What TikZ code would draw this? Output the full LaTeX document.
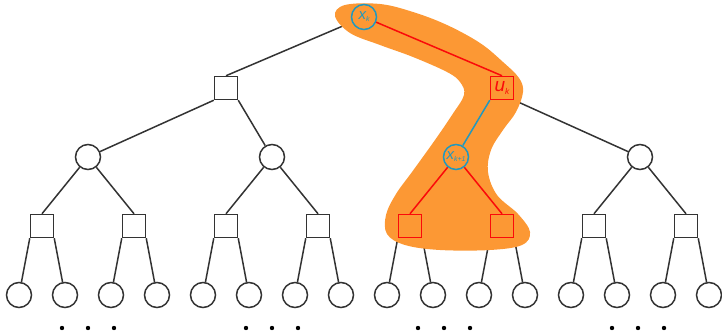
\documentclass[tikz,border=0pt]{standalone}
\usepackage{fontspec}
\setsansfont{Liberation Sans}
\usepackage{tikz}

\pgfdeclarelayer{blob}
\pgfdeclarelayer{path}
\pgfsetlayers{main,blob,path}

\definecolor{hlorange}{RGB}{252,152,52}
\definecolor{hlblue}{RGB}{32,152,192}
\definecolor{hlred}{RGB}{250,10,10}
\definecolor{treegray}{RGB}{51,51,51}

% state and decision labels
\newcommand{\xlbl}[1]{{\fontsize{15}{16}\selectfont\sffamily\itshape x\raisebox{-2pt}{\fontsize{7}{8}\selectfont #1}}}
\newcommand{\ulbl}[1]{{\fontsize{19}{20}\selectfont\sffamily\itshape u\raisebox{-2.5pt}{\fontsize{8.4}{9}\selectfont #1}}}

\begin{document}
\begin{tikzpicture}[x=1pt,y=-1pt,
  chance/.style={circle,draw=treegray,line width=1.5pt,minimum size=25pt,inner sep=0pt},
  choice/.style={rectangle,draw=treegray,line width=1.5pt,minimum size=23pt,inner sep=0pt},
  edge/.style={draw=treegray,line width=1.5pt},
  redge/.style={draw=hlred,line width=1.5pt},
  bedge/.style={draw=hlblue,line width=1.5pt}]
  \useasboundingbox (0,0) rectangle (722,336);

  % tree
  \node[choice] (a1) at (226,88) {};
  \foreach \i/\x in {1/88,2/272,4/640}
    \node[chance] (b\i) at (\x,157) {};
  \foreach \i/\x in {1/42,2/134,3/226,4/318,7/594,8/686}
    \node[choice] (c\i) at (\x,226) {};
  \foreach \j [evaluate=\j as \cx using {42+92*(\j-1)}] in {1,...,8} {
    \node[chance] (d\j-1) at (\cx-23,295) {};
    \node[chance] (d\j-2) at (\cx+23,295) {};
  }

  % highlighted branch
  \begin{pgfonlayer}{path}
    \node[chance,draw=hlblue,text=hlblue] (r) at (364,17) {\xlbl{k}};
    \node[choice,draw=hlred,text=hlred] (a2) at (502,88) {\ulbl{k}};
    \node[chance,draw=hlblue,text=hlblue] (b3) at (456,157) {\xlbl{k+1}};
    \node[choice,draw=hlred] (c5) at (410,226) {};
    \node[choice,draw=hlred] (c6) at (502,226) {};
    \draw[redge] (r) -- (a2.north);
    \draw[bedge] (a2.south west) -- (b3);
    \draw[redge] (b3) -- (c5.north);
    \draw[redge] (b3) -- (c6.north);
  \end{pgfonlayer}

  \draw[edge] (r) -- (a1.north);
  \draw[edge] (a1.south west) -- (b1);
  \draw[edge] (a1.south east) -- (b2);
  \draw[edge] (a2.south east) -- (b4);
  \foreach \i/\l/\r in {1/1/2,2/3/4,4/7/8} {
    \draw[edge] (b\i) -- (c\l.north);
    \draw[edge] (b\i) -- (c\r.north);
  }
  \foreach \j in {1,...,8} {
    \draw[edge] (c\j.south west) -- (d\j-1);
    \draw[edge] (c\j.south east) -- (d\j-2);
  }

  % shaded region round the branch
  \begin{pgfonlayer}{blob}
    \fill[hlorange] plot[smooth cycle,tension=0.6] coordinates {
      (335,16) (345,5) (380,4) (413,12) (447,25) (480,43) (503,62) (519,78)
      (523,92) (516,112) (503,130) (491,150) (488,172) (497,195) (518,214)
      (530,232) (522,245) (490,250) (440,250) (405,245) (387,234) (386,215)
      (396,194) (412,172) (435,140) (452,115) (464,95) (460,82) (447,72)
      (413,57) (380,45) (350,33)};
  \end{pgfonlayer}

  % more of the tree below
  \foreach \x in {62,88,114,246,272,298,418,444,470,612,638,664}
    \fill[black] (\x,328) circle (2.2);
\end{tikzpicture}
\end{document}
